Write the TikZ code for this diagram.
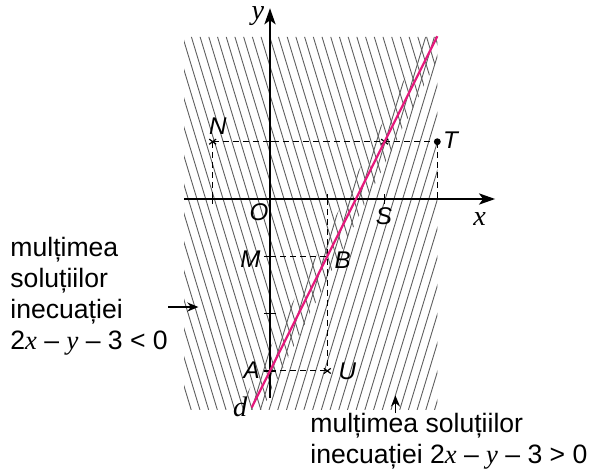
\documentclass[tikz,border=0pt]{standalone}
\usepackage{fontspec}
\setmainfont{Liberation Sans}
\newfontfamily\tmsfont{Liberation Serif}
\usetikzlibrary{arrows.meta}
\definecolor{dline}{RGB}{228,26,124}
\definecolor{hatchgray}{RGB}{95,95,95}
\newcommand{\vx}{{\tmsfont\itshape x}}
\newcommand{\vy}{{\tmsfont\itshape y}}

\begin{document}
\begin{tikzpicture}[every node/.style={font=\fontsize{12}{13}\selectfont\itshape, inner sep=0pt},
  hatch/.style={hatchgray, line width=.45pt},
  axis/.style={line width=1.3pt, -{Stealth[length=8pt,width=5.5pt,inset=2pt]}},
  tick/.style={line width=.7pt},
  guide/.style={line width=.5pt, dash pattern=on 3pt off 2pt},
  txt/.style={font=\fontsize{13.2}{15.4}\selectfont, align=left},
  var/.style={font=\fontsize{14}{15}\selectfont\tmsfont\itshape},
  pointer/.style={line width=.8pt, -{Stealth[length=5.5pt,width=4.5pt]}}]
  \useasboundingbox (-4.712,-4.782) rectangle (5.759,3.473);
  \coordinate (O) at (0,0);
  \coordinate (N) at (-1,1); \coordinate (Nx) at (-1,0);
  \coordinate (T) at (2.92,1); \coordinate (Tx) at (2.92,0);
  \coordinate (P) at (2,1);
  \coordinate (M) at (0,-1); \coordinate (B) at (1,-1);
  \coordinate (A) at (0,-3); \coordinate (U) at (1,-3);
  \coordinate (Bx) at (1,0);
  \coordinate (d1) at (-0.32,-3.64); \coordinate (d2) at (2.92,2.84);
  % hatching, 2x-y-3<0
  \begin{scope}
    \clip (-1.5,-3.68) -- (-0.14,-3.68) -- (2.92,2.44) -- (2.92,2.83) -- (-1.5,2.83) -- cycle;
    \foreach \i in {0,...,42} \draw[hatch] (-3.5+\i*0.152,2.83) -- ++(1.973,-6.51);
  \end{scope}
  % hatching, 2x-y-3>0
  \begin{scope}
    \clip (-0.54,-3.68) -- (2.92,-3.68) -- (2.92,2.83) -- (2.715,2.83) -- cycle;
    \foreach \i in {0,...,36} \draw[hatch] (-2.6+\i*0.152,-3.68) -- ++(1.973,6.51);
  \end{scope}
  % axes
  \coordinate (xl) at (-1.5,0); \coordinate (xr) at (3.93,0);
  \coordinate (yb) at (0,-3.47); \coordinate (yt) at (0,3.33);
  \draw[axis] (xl) -- (xr);
  \draw[axis] (yb) -- (yt);
  \foreach \t in {-1,1,2} \draw[tick] (\t,-0.08) -- (\t,0.08);
  \foreach \t in {1,-1,-2,-3} \draw[tick] (-0.1,\t) -- (0.1,\t);
  % guides
  \draw[guide] (N) -- (T);
  \draw[guide] (N) -- (Nx);
  \draw[guide] (T) -- (Tx);
  \draw[guide] (Bx) -- (U);
  \draw[guide] (M) -- (B);
  \draw[guide] (A) -- (U);
  \foreach \p in {N,P,U}
    \draw[line width=.6pt] (\p) +(-0.06,-0.045) -- +(0.06,0.045) (\p) +(-0.06,0.045) -- +(0.06,-0.045);
  \fill (T) circle (0.06);
  % the line d
  \draw[dline, line width=1.1pt] (d1) -- (d2);
  % labels
  \node[var] (ly) at (-0.21,3.19) {y};
  \node[var] (lx) at (3.66,-0.35) {x};
  \node[var] (ld) at (-0.52,-3.63) {d};
  \node (lO) at (-0.19,-0.23) {O};
  \node (lN) at (-0.91,1.27) {N};
  \node (lT) at (3.15,1.03) {T};
  \node (lS) at (1.99,-0.30) {S};
  \node (lM) at (-0.34,-1.05) {M};
  \node (lB) at (1.27,-1.06) {B};
  \node (lA) at (-0.32,-2.98) {A};
  \node (lU) at (1.35,-3.0) {U};
  % texts
  \node[txt, anchor=north west] (lset) at (-4.537,-0.658)
    {mulțimea\\soluțiilor\\inecuației\\2\vx{} – \vy{} – 3 < 0};
  \node[txt, anchor=north west] (rset) at (0.698,-3.724)
    {mulțimea soluțiilor\\inecuației 2\vx{} – \vy{} – 3 > 0};
  \coordinate (lt) at (-1.78,-1.885); \coordinate (lh) at (-1.25,-1.885);
  \coordinate (rt) at (2.19,-3.735); \coordinate (rh) at (2.19,-3.43);
  \draw[pointer] (lt) -- (lh);
  \draw[pointer] (rt) -- (rh);
\end{tikzpicture}
\end{document}
